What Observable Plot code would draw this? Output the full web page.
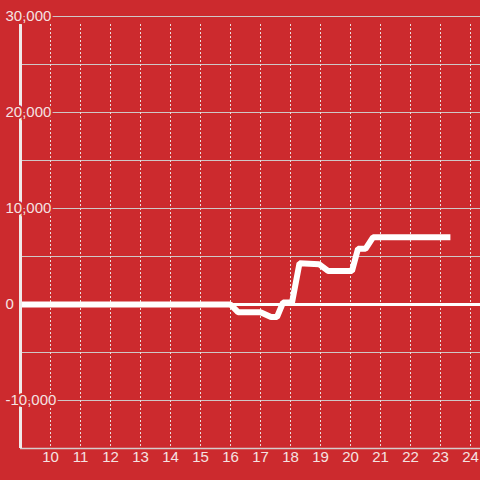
<!DOCTYPE html>
<html>
<head>
<meta charset="utf-8">
<script src="https://cdn.jsdelivr.net/npm/d3@7"></script>
<script src="https://cdn.jsdelivr.net/npm/@observablehq/plot@0.6"></script>
<style>
  html, body { margin: 0; padding: 0; background: #cc2a2e; }
  #chart svg { display: block; }
</style>
</head>
<body>
<div id="chart"></div>
<script>
const hours = [9, 16.0, 16.25, 17.0, 17.35, 17.55, 17.75, 18.05, 18.3, 18.95, 19.25, 20.05, 20.25, 20.5, 20.75, 23.33];
const values = [0, 0, -800, -800, -1300, -1300, 200, 200, 4300, 4200, 3500, 3500, 5800, 5800, 7000, 7000];
const xTicks = [10, 11, 12, 13, 14, 15, 16, 17, 18, 19, 20, 21, 22, 23, 24];
const yGrid = [-10000, -5000, 5000, 10000, 15000, 20000, 25000, 30000];
const yLabels = [-10000, 0, 10000, 20000, 30000];

const bg = "#cc2a2e";
const textColor = "#f5e2e2";
const fmt = d => d3.format(",")(d).replace("\u2212", "-");
const data = hours.map((h, i) => ({h, v: values[i]}));

const chart = Plot.plot({
  width: 480,
  height: 480,
  marginLeft: 20,
  marginRight: 0,
  marginTop: 16,
  marginBottom: 32,
  style: {background: bg, fontFamily: "Liberation Sans, Arial, sans-serif", fontSize: "15px"},
  x: {domain: [9, 24.3333], axis: null},
  y: {domain: [-15000, 30000], axis: null},
  marks: [
    Plot.ruleY(yGrid, {stroke: "#cfc7c7", strokeWidth: 1}),
    Plot.ruleX(xTicks, {stroke: "#eadede", strokeWidth: 1, strokeDasharray: "2,2", insetTop: 8}),
    Plot.ruleY([-15000], {stroke: "#d6cccc", strokeWidth: 1.5}),
    Plot.ruleY([0], {stroke: "#ffffff", strokeWidth: 3}),
    Plot.line(data, {x: "h", y: "v", stroke: "#ffffff", strokeWidth: 6, strokeLinejoin: "miter", strokeLinecap: "butt"}),
    Plot.ruleX([9], {stroke: "#f0eaea", strokeWidth: 3, insetTop: 8}),
    Plot.text(yLabels, {y: d => d, frameAnchor: "left", dx: -15, textAnchor: "start", text: fmt,
      fill: textColor, stroke: bg, strokeWidth: 4, fontSize: 15}),
    Plot.text(xTicks, {x: d => d, frameAnchor: "bottom", dy: 13, text: d => String(d),
      fill: textColor, fontSize: 15})
  ]
});
document.getElementById("chart").appendChild(chart);
</script>
</body>
</html>
